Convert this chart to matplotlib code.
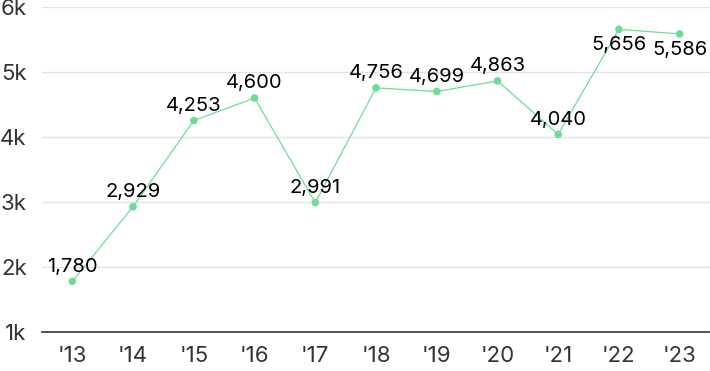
import matplotlib
matplotlib.use("Agg")
import matplotlib.pyplot as plt

years = ["'13", "'14", "'15", "'16", "'17", "'18", "'19", "'20", "'21", "'22", "'23"]
values = [1780, 2929, 4253, 4600, 2991, 4756, 4699, 4863, 4040, 5656, 5586]
below = [False] * 9 + [True, True]

plt.rcParams['font.family'] = ['Inter', 'DejaVu Sans']

fig = plt.figure(figsize=(7.1, 3.71), dpi=100)
ax = fig.add_axes([42 / 710, 39 / 371, 668 / 710, 325 / 371])

x = list(range(len(years)))
green = '#6fdc96'
ax.plot(x, values, color=green, lw=0.9, zorder=3)
ax.scatter(x, values, s=30, color=green, zorder=4, edgecolor='none')

for i, v in enumerate(values):
    dy = -5 if below[i] else 4
    va = 'top' if below[i] else 'bottom'
    ax.annotate(f"{v:,}", (i, v), xytext=(0, dy), textcoords='offset points',
                ha='center', va=va, fontsize=14.5, color='#000000', zorder=5)

ax.set_xlim(-0.5, len(years) - 0.5)
ax.set_ylim(1000, 6000)
ax.set_yticks([1000, 2000, 3000, 4000, 5000, 6000])
ax.set_yticklabels(['1k', '2k', '3k', '4k', '5k', '6k'])
ax.set_xticks(x)
ax.set_xticklabels(years)

ax.grid(axis='y', color='#e3e3e3', lw=1)
ax.set_axisbelow(True)
for s in ['top', 'right', 'left']:
    ax.spines[s].set_visible(False)
ax.spines['bottom'].set_color('#333333')
ax.spines['bottom'].set_linewidth(1.2)
ax.tick_params(axis='both', length=0, labelsize=16, colors='#333333')
ax.tick_params(axis='y', pad=11)
ax.tick_params(axis='x', pad=10)

fig.savefig('out.png', dpi=100)
